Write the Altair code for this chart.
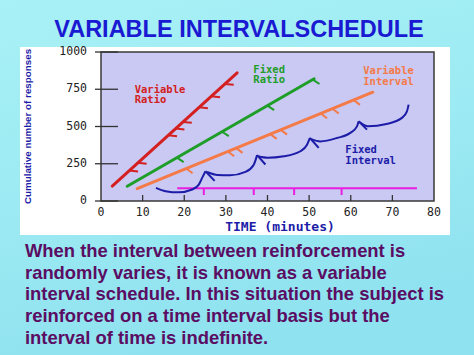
import altair as alt
import pandas as pd

# ---------------- data ----------------
# Variable ratio (red)
vr_x = [2.7, 32.7]
vr_y = [100, 860]
vr_hatch_y = [204, 256, 441, 486, 531, 629, 703, 786]
# Fixed ratio (green)
fr_x = [6.3, 51.2]
fr_y = [99, 820]
fr_hatch_y = [291, 465, 640, 815]
# Variable interval (orange)
vi_x = [8.7, 65.3]
vi_y = [83, 730]
vi_hatch_x = [20.5, 30.5, 32.5, 40.7, 43.2, 52.8, 55.6, 60.7]
# Fixed interval (blue) scallops
fi_x = [
    [13.2, 15.5, 18.7, 21.9, 23.5, 24.3, 25.1],
    [25.5, 28.0, 31.0, 34.7, 36.7, 37.5],
    [37.8, 40.0, 43.9, 47.9, 49.5, 50.2],
    [50.5, 52.7, 56.7, 59.9, 61.5, 61.9],
    [62.2, 64.1, 68.6, 72.3, 73.5, 73.9],
]
fi_y = [
    [88, 66, 58, 77, 110, 155, 200],
    [195, 175, 172, 195, 244, 308],
    [300, 290, 300, 334, 378, 423],
    [415, 400, 423, 457, 501, 535],
    [528, 501, 517, 558, 602, 647],
]
fi_arrow_x = [[25.1, 27.3], [37.5, 39.5], [50.2, 52.3], [61.9, 63.9]]
fi_arrow_y = [[200, 135], [308, 245], [423, 356], [535, 479]]
# Reinforcement timeline (magenta)
rf_x = [18.3, 75.9]
rf_y = 85
rf_marks = [24.7, 36.7, 46.4, 57.8]

x_ticks = [0, 10, 20, 30, 40, 50, 60, 70, 80]
y_ticks = [0, 250, 500, 750, 1000]
x_title = "TIME (minutes)"
y_title = "Cumulative number of responses"

labels = ["Variable\nRatio", "Fixed\nRatio", "Variable\nInterval", "Fixed\nInterval"]
label_x = [8.1, 36.6, 63.0, 58.7]
label_y = [748, 882, 872, 344]
label_series = ["VR", "FR", "VI", "FI"]

title_text = "VARIABLE INTERVALSCHEDULE"
body_text = ("When the interval between reinforcement is\n"
             "randomly varies, it is known as a variable\n"
             "interval schedule. In this situation the subject is\n"
             "reinforced on a time interval basis but the\n"
             "interval of time is indefinite.")

# ---------------- styling ----------------
RED, GREEN, ORANGE, BLUE, MAG = "#d42020", "#1e9e28", "#f47a48", "#1c1ca8", "#e81ee0"
series_dom = ["VR", "FR", "VI", "FI"]
series_rng = [RED, GREEN, ORANGE, BLUE]

W, H = 333, 149
xs = alt.Scale(domain=[0, 80], nice=False, zero=False)
ys = alt.Scale(domain=[0, 1000], nice=False, zero=False)


def on_line(lx, ly, x=None, y=None):
    slope = (ly[1] - ly[0]) / (lx[1] - lx[0])
    if x is not None:
        return ly[0] + (x - lx[0]) * slope
    return lx[0] + (y - ly[0]) / slope


rows = []
for s, lx, ly in [("VR", vr_x, vr_y), ("FR", fr_x, fr_y), ("VI", vi_x, vi_y)]:
    for i, (a, b) in enumerate(zip(lx, ly)):
        rows.append({"s": s, "seg": s, "i": i, "x": a, "y": b})
lines_df = pd.DataFrame(rows)

h = []
for y in vr_hatch_y:
    x = on_line(vr_x, vr_y, y=y)
    h.append({"s": "VR", "x": x, "y": y, "x2": x + 2.1, "y2": y - 6})
for y in fr_hatch_y:
    x = on_line(fr_x, fr_y, y=y)
    h.append({"s": "FR", "x": x, "y": y, "x2": x + 1.6, "y2": y - 30})
for x in vi_hatch_x:
    y = on_line(vi_x, vi_y, x=x)
    h.append({"s": "VI", "x": x, "y": y, "x2": x + 1.5, "y2": y - 32})
hatch_df = pd.DataFrame(h)

f = []
for k, (xx, yy) in enumerate(zip(fi_x, fi_y)):
    for i, (a, b) in enumerate(zip(xx, yy)):
        f.append({"seg": f"s{k}", "i": i, "x": a, "y": b})
fi_df = pd.DataFrame(f)
fa_df = pd.DataFrame([{"x": xx[0], "y": yy[0], "x2": xx[1], "y2": yy[1]}
                      for xx, yy in zip(fi_arrow_x, fi_arrow_y)])

rf_df = pd.DataFrame({"x": [rf_x[0]], "x2": [rf_x[1]], "y": [rf_y]})
rfm_df = pd.DataFrame({"x": rf_marks, "y": [rf_y] * len(rf_marks), "y2": [rf_y - 45] * len(rf_marks)})

lab_df = pd.DataFrame({"t": labels, "x": label_x, "y": label_y, "s": label_series})

one = alt.Data(values=[{"a": 1}])

X = lambda f="x": alt.X(f + ":Q", scale=xs, axis=None)
Y = lambda f="y": alt.Y(f + ":Q", scale=ys, axis=None)

bg_grad = alt.Gradient(gradient="linear", x1=0, y1=0, x2=0.3, y2=1,
                       stops=[alt.GradientStop(color="#a8f1f6", offset=0),
                              alt.GradientStop(color="#9ceaf3", offset=0.55),
                              alt.GradientStop(color="#8fe2ef", offset=1)])
slide_bg = alt.Chart(one).mark_rect(fill=bg_grad).encode(
    x=alt.value(-101), x2=alt.value(373), y=alt.value(-52), y2=alt.value(303))
white_box = alt.Chart(one).mark_rect(fill="white").encode(
    x=alt.value(-81), x2=alt.value(349), y=alt.value(-5), y2=alt.value(183))
plot_bg = alt.Chart(one).mark_rect(fill="#c9c9f3", stroke="#3a3a3a", strokeWidth=1.5).encode(
    x=alt.value(0), x2=alt.value(W), y=alt.value(0), y2=alt.value(H))

ytick_df = pd.DataFrame({"v": y_ticks})
xtick_df = pd.DataFrame({"v": x_ticks})
ytick_layer = alt.Chart(ytick_df).mark_rule(color="#333333", strokeWidth=1.3).encode(
    y=Y("v"), x=alt.value(-6), x2=alt.value(17))
xtick_layer = alt.Chart(xtick_df[(xtick_df.v > 0) & (xtick_df.v < 80)]).mark_rule(
    color="#333333", strokeWidth=1.3).encode(x=X("v"), y=alt.value(H), y2=alt.value(H - 6))
ylab_layer = alt.Chart(ytick_df).mark_text(font="DejaVu Sans Mono", fontSize=11.5, color="#222222",
                                           align="right", baseline="middle").encode(
    y=Y("v"), x=alt.value(-14), text="v:Q")
xlab_layer = alt.Chart(xtick_df).mark_text(font="DejaVu Sans Mono", fontSize=11.5, color="#222222",
                                           align="center", baseline="middle").encode(
    x=X("v"), y=alt.value(H + 12), text="v:Q")
xtitle = alt.Chart(one).mark_text(text=x_title, font="DejaVu Sans Mono", fontWeight="bold",
                                  fontSize=13, color=BLUE, align="center", baseline="middle").encode(
    x=alt.value(179), y=alt.value(H + 26))
ytitle = alt.Chart(one).mark_text(text=y_title, font="Liberation Sans", fontWeight="bold",
                                  fontSize=9.8, color=BLUE, align="center", baseline="middle",
                                  angle=270).encode(x=alt.value(-73), y=alt.value(74.5))

color_enc = alt.Color("s:N", scale=alt.Scale(domain=series_dom, range=series_rng), legend=None)

straight = alt.Chart(lines_df).mark_line(strokeWidth=3, strokeCap="round").encode(
    x=X(), y=Y(), color=color_enc, detail="seg:N", order="i:Q")
hatches = alt.Chart(hatch_df).mark_rule(strokeWidth=2).encode(
    x=X(), y=Y(), x2="x2:Q", y2="y2:Q", color=color_enc)
scallops = alt.Chart(fi_df).mark_line(color=BLUE, strokeWidth=2, interpolate="monotone").encode(
    x=X(), y=Y(), detail="seg:N", order="i:Q")
arrows = alt.Chart(fa_df).mark_rule(color=BLUE, strokeWidth=2).encode(
    x=X(), y=Y(), x2="x2:Q", y2="y2:Q")
reinf = alt.Chart(rf_df).mark_rule(color=MAG, strokeWidth=2).encode(x=X(), x2="x2:Q", y=Y())
reinf_m = alt.Chart(rfm_df).mark_rule(color=MAG, strokeWidth=2).encode(x=X(), y=Y(), y2="y2:Q")
lab = alt.Chart(lab_df).mark_text(font="DejaVu Sans Mono", fontWeight="bold", fontSize=10.5,
                                  lineBreak="\n", lineHeight=10.8,
                                  align="left", baseline="middle").encode(
    x=X(), y=Y(), text="t:N", color=color_enc)

title = alt.Chart(one).mark_text(text=title_text, font="Liberation Sans", fontWeight="bold",
                                 fontSize=23.5, color="#1a1ad2", align="center",
                                 baseline="alphabetic").encode(x=alt.value(138), y=alt.value(-15))
body = alt.Chart(one).mark_text(text=body_text, lineBreak="\n", lineHeight=21.9,
                                font="Liberation Sans", fontWeight="bold", fontSize=18.4,
                                color="#5a0d62", align="left", baseline="alphabetic").encode(
    x=alt.value(-76), y=alt.value(204.7))

chart = alt.layer(slide_bg, white_box, plot_bg, ytick_layer, xtick_layer, ylab_layer, xlab_layer,
                  xtitle, ytitle, reinf, reinf_m, straight, hatches, scallops, arrows, lab,
                  title, body).properties(
    width=W, height=H,
    padding={"left": 101, "top": 52, "right": 40, "bottom": 154},
    autosize=alt.AutoSizeParams(type="none"),
    background="#a0eef4",
).configure_view(strokeWidth=0)

chart.save("out.html", embed_options={"renderer": "svg", "actions": False})
